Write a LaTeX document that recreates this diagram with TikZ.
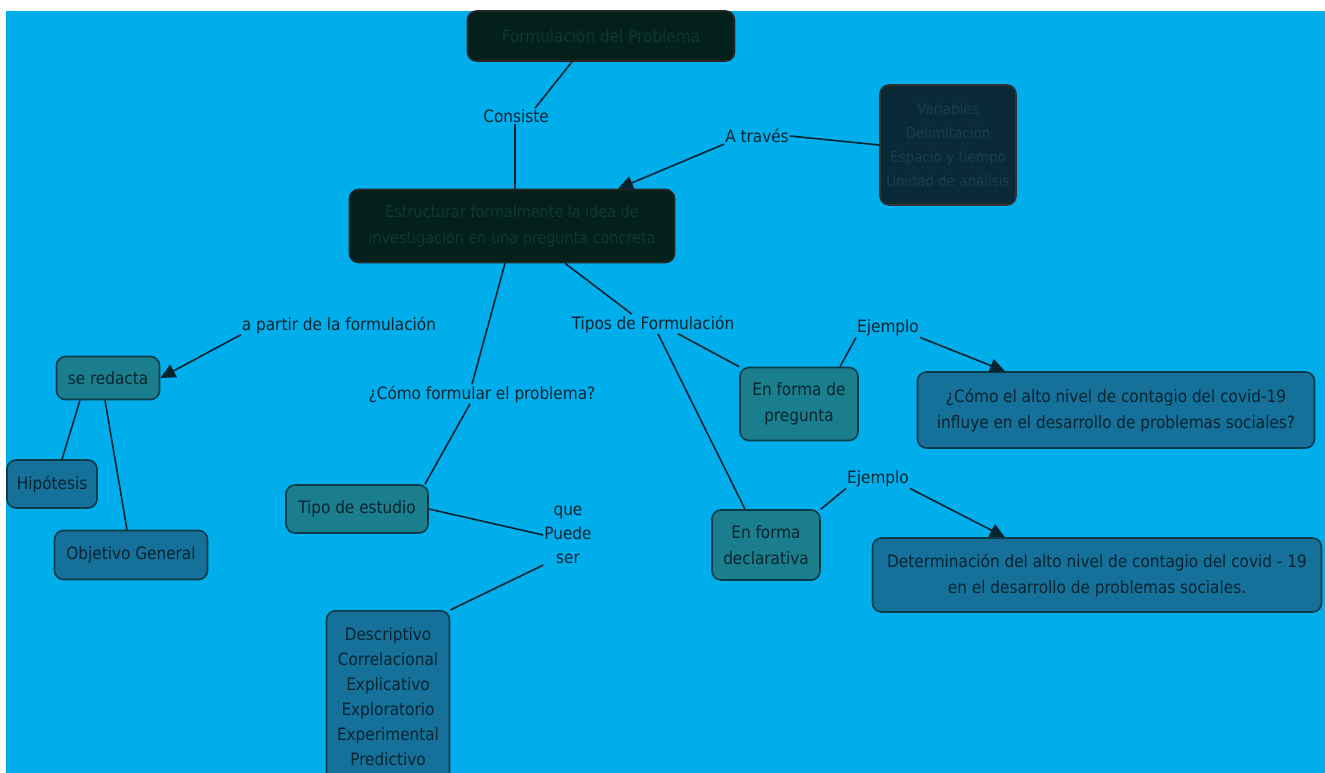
\documentclass[tikz,border=0pt]{standalone}
\usepackage{fontspec}
\setmainfont{DejaVu Sans Condensed}
\usetikzlibrary{arrows.meta}
\definecolor{sky}{HTML}{00AEEB}
\definecolor{ink}{HTML}{082430}
\definecolor{tealfill}{HTML}{1A7E8C}
\definecolor{bluefill}{HTML}{15709A}
\definecolor{edge}{HTML}{0C3A48}
\definecolor{nightfill}{HTML}{03201A}
\definecolor{nightink}{HTML}{0D3A30}
\definecolor{navyfill}{HTML}{0A2A38}
\definecolor{navyink}{HTML}{16404E}
\tikzset{
  concept/.style={draw=edge, line width=1.6pt, rounded corners=9pt, align=center,
    inner sep=0pt, font=\fontsize{17}{26}\selectfont, text=ink},
  tealbox/.style={concept, fill=tealfill},
  bluebox/.style={concept, fill=bluefill},
  nightbox/.style={concept, fill=nightfill, draw=black!85, text=nightink},
  navybox/.style={concept, fill=navyfill, draw=black!80, text=navyink},
  linkword/.style={align=center, inner sep=1pt, font=\fontsize{17}{24}\selectfont, text=ink},
  link/.style={draw=ink, line width=1.6pt},
  arrowlink/.style={link, -{Triangle[length=15pt,width=14pt]}}
}
\begin{document}
\begin{tikzpicture}[x=1pt,y=-1pt]
\useasboundingbox (0,0) rectangle (1325,773);
\fill[white] (0,0) rectangle (1325,773);
\begin{scope}
\clip (6,11) rectangle (1325,773);
\fill[sky] (6,11) rectangle (1325,773);

% concepts
\node[nightbox, minimum width=267pt, minimum height=50pt] (title) at (601,36) {Formulación del Problema};
\node[navybox, minimum width=136pt, minimum height=120pt, font=\fontsize{15}{24}\selectfont] (elem) at (948,145) {Variables\\Delimitación\\Espacio y tiempo\\Unidad de análisis};
\node[nightbox, minimum width=325pt, minimum height=73pt, font=\fontsize{16}{26}\selectfont] (main) at (512,226) {Estructurar formalmente la idea de\\investigación en una pregunta concreta};
\node[tealbox, minimum width=103pt, minimum height=43pt] (redacta) at (108,378) {se redacta};
\node[bluebox, minimum width=90pt, minimum height=48pt] (hipo) at (52,484) {Hipótesis};
\node[bluebox, minimum width=153pt, minimum height=49pt] (objetivo) at (131,555) {Objetivo General};
\node[tealbox, minimum width=142pt, minimum height=48pt] (tipo) at (357,509) {Tipo de estudio};
\node[bluebox, minimum width=123pt, minimum height=172pt, anchor=north, font=\fontsize{17}{25}\selectfont] (estudios) at (388,610) {Descriptivo\\Correlacional\\Explicativo\\Exploratorio\\Experimental\\Predictivo};
\node[tealbox, minimum width=118pt, minimum height=73pt] (pregunta) at (799,404) {En forma de\\pregunta};
\node[bluebox, minimum width=397pt, minimum height=76pt] (ejpregunta) at (1116,410) {¿Cómo el alto nivel de contagio del covid-19\\influye en el desarrollo de problemas sociales?};
\node[tealbox, minimum width=108pt, minimum height=70pt] (declara) at (766,545) {En forma\\declarativa};
\node[bluebox, minimum width=449pt, minimum height=74pt] (ejdeclara) at (1097,575) {Determinación del alto nivel de contagio del covid - 19\\en el desarrollo de problemas sociales.};

% linking words
\node[linkword] (consiste) at (516,116) {Consiste};
\node[linkword] (traves) at (757,136) {A través};
\node[linkword] (apartir) at (339,325) {a partir de la formulación};
\node[linkword] (como) at (482,394) {¿Cómo formular el problema?};
\node[linkword] (tipos) at (653,324) {Tipos de Formulación};
\node[linkword] (ej1) at (888,328) {Ejemplo};
\node[linkword] (ej2) at (878,479) {Ejemplo};
\node[linkword] (puede) at (568,535) {que\\Puede\\ser};

% connectors
\draw[link] (title.south -| 572,0) -- (consiste.north -| 535,0);
\draw[link] (consiste.south -| 515,0) -- (main.north -| 515,0);
\draw[link] (elem.west) -- (traves.east);
\draw[arrowlink] (traves.south west) -- (main.north -| 618,0);
\draw[arrowlink] (apartir.south west) -- (redacta.east);
\draw[link] (redacta.south -| 80,0) -- (hipo.north -| 62,0);
\draw[link] (redacta.south -| 105,0) -- (objetivo.north -| 127,0);
\draw[link] (main.south -| 505,0) -- (como.north -| 472,0);
\draw[link] (como.south -| 470,0) -- (tipo.north -| 425,0);
\draw[link] (tipo.east) -- (puede.west);
\draw[link] (puede.south west) -- (estudios.north east);
\draw[link] (main.south -| 565,0) -- (tipos.north -| 632,0);
\draw[link] (tipos.south -| 678,0) -- (pregunta.north west);
\draw[link] (tipos.south -| 658,0) -- (declara.north -| 745,0);
\draw[link] (pregunta.north -| 840,0) -- (ej1.south west);
\draw[arrowlink] (ej1.south east) -- (ejpregunta.north -| 1005,0);
\draw[link] (declara.north east) -- (ej2.south west);
\draw[arrowlink] (ej2.south east) -- (ejdeclara.north -| 1005,0);
\end{scope}
\end{tikzpicture}
\end{document}
